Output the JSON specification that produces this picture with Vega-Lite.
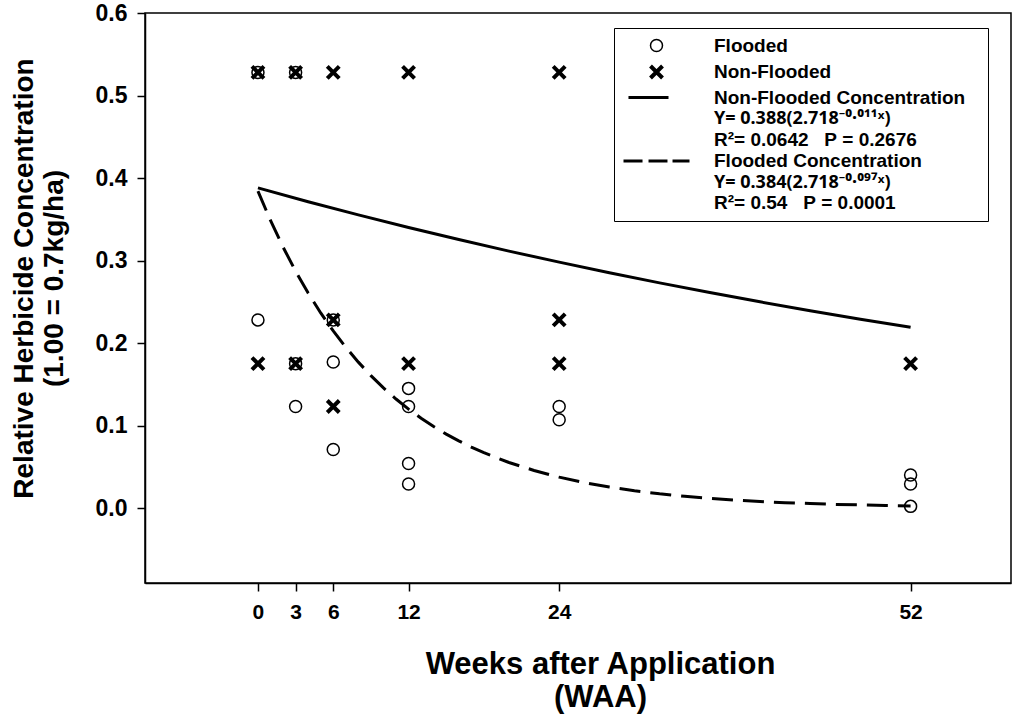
{
  "$schema": "https://vega.github.io/schema/vega-lite/v6.json",
  "width": 866,
  "height": 570,
  "autosize": {"type": "none"},
  "padding": {"left": 145, "top": 13, "right": 2, "bottom": 136},
  "background": "white",
  "config": {
    "view": {"stroke": "black", "strokeWidth": 1.5},
    "font": "Liberation Sans",
    "axis": {
      "grid": false,
      "domainColor": "black",
      "domainWidth": 1.5,
      "tickColor": "black",
      "tickWidth": 1.5,
      "tickSize": 8,
      "labelColor": "black",
      "labelFont": "Liberation Sans",
      "labelFontWeight": "bold",
      "titleColor": "black",
      "titleFont": "Liberation Sans",
      "titleFontWeight": "bold"
    }
  },
  "datasets": {
    "points": [
      {"week": 0, "conc": 0.528, "series": "Non-Flooded"},
      {"week": 0, "conc": 0.175, "series": "Non-Flooded"},
      {"week": 3, "conc": 0.528, "series": "Non-Flooded"},
      {"week": 3, "conc": 0.175, "series": "Non-Flooded"},
      {"week": 6, "conc": 0.528, "series": "Non-Flooded"},
      {"week": 6, "conc": 0.228, "series": "Non-Flooded"},
      {"week": 6, "conc": 0.123, "series": "Non-Flooded"},
      {"week": 12, "conc": 0.528, "series": "Non-Flooded"},
      {"week": 12, "conc": 0.175, "series": "Non-Flooded"},
      {"week": 24, "conc": 0.528, "series": "Non-Flooded"},
      {"week": 24, "conc": 0.228, "series": "Non-Flooded"},
      {"week": 24, "conc": 0.175, "series": "Non-Flooded"},
      {"week": 52, "conc": 0.175, "series": "Non-Flooded"},
      {"week": 0, "conc": 0.528, "series": "Flooded"},
      {"week": 0, "conc": 0.228, "series": "Flooded"},
      {"week": 3, "conc": 0.528, "series": "Flooded"},
      {"week": 3, "conc": 0.175, "series": "Flooded"},
      {"week": 3, "conc": 0.123, "series": "Flooded"},
      {"week": 6, "conc": 0.228, "series": "Flooded"},
      {"week": 6, "conc": 0.177, "series": "Flooded"},
      {"week": 6, "conc": 0.071, "series": "Flooded"},
      {"week": 12, "conc": 0.145, "series": "Flooded"},
      {"week": 12, "conc": 0.123, "series": "Flooded"},
      {"week": 12, "conc": 0.054, "series": "Flooded"},
      {"week": 12, "conc": 0.029, "series": "Flooded"},
      {"week": 24, "conc": 0.123, "series": "Flooded"},
      {"week": 24, "conc": 0.107, "series": "Flooded"},
      {"week": 52, "conc": 0.040, "series": "Flooded"},
      {"week": 52, "conc": 0.029, "series": "Flooded"},
      {"week": 52, "conc": 0.002, "series": "Flooded"}
    ],
    "nonflooded": [
      {"week": 0, "conc": 0.388},
      {"week": 4, "conc": 0.3713},
      {"week": 8, "conc": 0.3553},
      {"week": 12, "conc": 0.3400},
      {"week": 16, "conc": 0.3254},
      {"week": 20, "conc": 0.3114},
      {"week": 24, "conc": 0.2980},
      {"week": 28, "conc": 0.2851},
      {"week": 32, "conc": 0.2729},
      {"week": 36, "conc": 0.2611},
      {"week": 40, "conc": 0.2499},
      {"week": 44, "conc": 0.2391},
      {"week": 48, "conc": 0.2288},
      {"week": 52, "conc": 0.2190}
    ],
    "flooded": [
      {"week": 0, "conc": 0.384},
      {"week": 1, "conc": 0.3485},
      {"week": 2, "conc": 0.3163},
      {"week": 3, "conc": 0.2871},
      {"week": 4, "conc": 0.2605},
      {"week": 5, "conc": 0.2364},
      {"week": 6, "conc": 0.2146},
      {"week": 7, "conc": 0.1948},
      {"week": 8, "conc": 0.1768},
      {"week": 9, "conc": 0.1604},
      {"week": 10, "conc": 0.1456},
      {"week": 11, "conc": 0.1321},
      {"week": 12, "conc": 0.1199},
      {"week": 13, "conc": 0.1088},
      {"week": 14, "conc": 0.0988},
      {"week": 15, "conc": 0.0896},
      {"week": 16, "conc": 0.0814},
      {"week": 17, "conc": 0.0738},
      {"week": 18, "conc": 0.0670},
      {"week": 20, "conc": 0.0552},
      {"week": 22, "conc": 0.0455},
      {"week": 24, "conc": 0.0374},
      {"week": 26, "conc": 0.0308},
      {"week": 28, "conc": 0.0254},
      {"week": 30, "conc": 0.0209},
      {"week": 32, "conc": 0.0172},
      {"week": 34, "conc": 0.0142},
      {"week": 36, "conc": 0.0117},
      {"week": 38, "conc": 0.0096},
      {"week": 40, "conc": 0.0079},
      {"week": 42, "conc": 0.0065},
      {"week": 44, "conc": 0.0054},
      {"week": 46, "conc": 0.0044},
      {"week": 48, "conc": 0.0037},
      {"week": 50, "conc": 0.0030},
      {"week": 52, "conc": 0.0025}
    ]
  },
  "encoding": {
    "x": {
      "field": "week",
      "type": "quantitative",
      "scale": {"domain": [-9, 60], "nice": false, "zero": false},
      "axis": {
        "values": [0, 3, 6, 12, 24, 52],
        "labelFontSize": 21,
        "labelPadding": 10,
        "title": ["Weeks after Application", "(WAA)"],
        "titleFontSize": 31,
        "titleLineHeight": 33,
        "titlePadding": 27,
        "titleX": 455,
        "titleAlign": "center"
      }
    },
    "y": {
      "field": "conc",
      "type": "quantitative",
      "scale": {"domain": [-0.0909, 0.6], "nice": false, "zero": false},
      "axis": {
        "values": [0, 0.1, 0.2, 0.3, 0.4, 0.5, 0.6],
        "format": ".1f",
        "labelFontSize": 23,
        "labelPadding": 10,
        "title": ["Relative Herbicide Concentration", "(1.00 = 0.7kg/ha)"],
        "titleFontSize": 28,
        "titleLineHeight": 30,
        "titlePadding": 27,
        "titleY": 265
      }
    }
  },
  "layer": [
    {
      "data": {"name": "nonflooded"},
      "mark": {"type": "line", "color": "black", "strokeWidth": 3},
      "encoding": {}
    },
    {
      "data": {"name": "flooded"},
      "mark": {"type": "line", "color": "black", "strokeWidth": 3, "strokeDash": [21, 10]},
      "encoding": {}
    },
    {
      "data": {"name": "points"},
      "mark": {"type": "point", "filled": false, "color": "black", "size": 144, "opacity": 1},
      "encoding": {
        "shape": {
          "field": "series",
          "type": "nominal",
          "scale": {
            "domain": ["Flooded", "Non-Flooded", "Non-Flooded Concentration", "nfEq", "nfR2", "Flooded Concentration", "fEq", "fR2"],
            "range": ["circle", "M-1,-1L1,1M-1,1L1,-1", "M-4.67,0H2", "M0,0", "M0,0", "M-5.5,0H-2.33M-1.33,0H1.83M2.67,0H5.5", "M0,0", "M0,0"]
          },
          "legend": {
            "orient": "none",
            "legendX": 469,
            "legendY": 15,
            "title": null,
            "strokeColor": "black",
            "fillColor": "white",
            "padding": 8,
            "symbolOffset": 25,
            "labelOffset": 48,
            "rowPadding": 1.5,
            "symbolSize": 144,
            "symbolStrokeColor": "black",
            "symbolFillColor": "transparent",
            "labelFont": {"expr": "datum.value === 'nfEq' || datum.value === 'fEq' ? 'Noto Sans' : 'Liberation Sans'"},
            "labelFontSize": {"expr": "datum.value === 'nfEq' || datum.value === 'fEq' ? 18 : 19"},
            "labelFontWeight": "bold",
            "labelColor": "black",
            "labelLimit": 500,
            "labelExpr": "datum.label === 'nfEq' ? 'Y=\u00a00.388(2.718⁻⁰·⁰¹¹ˣ)' : datum.label === 'nfR2' ? 'R²=\u00a00.0642\u00a0\u00a0\u00a0P\u00a0=\u00a00.2676' : datum.label === 'Flooded Concentration' ? '\u00a0Flooded Concentration' : datum.label === 'fEq' ? '\u00a0Y=\u00a00.384(2.718⁻⁰·⁰⁹⁷ˣ)' : datum.label === 'fR2' ? '\u00a0R²=\u00a00.54\u00a0\u00a0\u00a0P\u00a0=\u00a00.0001' : datum.label === 'Non-Flooded Concentration' ? 'Non-Flooded Concentration\u2800' : datum.label"
          }
        },
        "strokeWidth": {
          "field": "series",
          "type": "nominal",
          "scale": {
            "type": "ordinal",
            "domain": ["Flooded", "Non-Flooded", "Non-Flooded Concentration", "nfEq", "nfR2", "Flooded Concentration", "fEq", "fR2"],
            "range": [1.5, 4, 3, 0, 0, 3, 0, 0]
          }
        }
      }
    }
  ]
}
